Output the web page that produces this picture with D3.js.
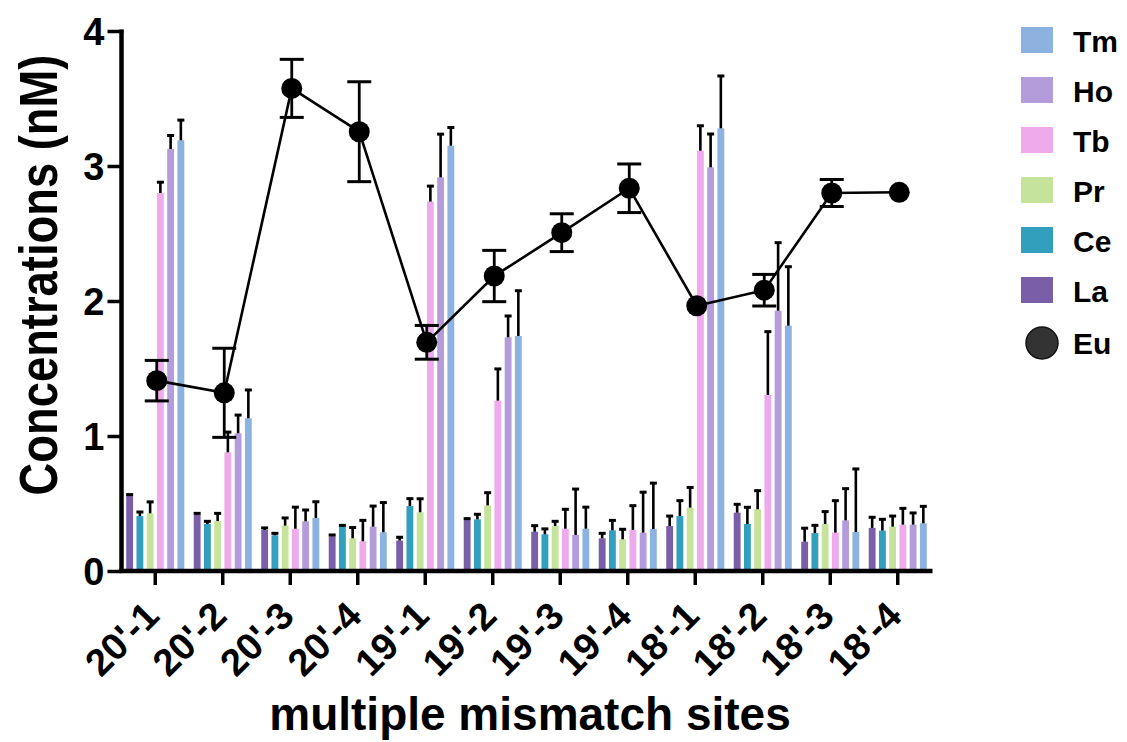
<!DOCTYPE html>
<html>
<head>
<meta charset="utf-8">
<script src="https://cdn.jsdelivr.net/npm/d3@7/dist/d3.min.js"></script>
<style>
  html, body { margin: 0; padding: 0; background: #fff; }
  svg { display: block; font-family: "Liberation Sans", Arial, Helvetica, sans-serif; font-weight: bold; }
</style>
</head>
<body>
<svg id="chart" width="1127" height="742"></svg>
<script>
// Sites on the x axis
const sites = ["20'-1", "20'-2", "20'-3", "20'-4", "19'-1", "19'-2", "19'-3", "19'-4", "18'-1", "18'-2", "18'-3", "18'-4"];

// Bar series (nM) and their upper error (SD)
const La    = [0.556, 0.417, 0.304, 0.257, 0.225, 0.378, 0.291, 0.242, 0.333, 0.432, 0.217, 0.319];
const laErr = [0.010, 0.010, 0.015, 0.010, 0.025, 0.010, 0.045, 0.037, 0.074, 0.062, 0.100, 0.079];
const Ce    = [0.407, 0.348, 0.264, 0.328, 0.481, 0.383, 0.272, 0.301, 0.407, 0.348, 0.281, 0.299];
const ceErr = [0.030, 0.020, 0.015, 0.010, 0.055, 0.037, 0.040, 0.074, 0.114, 0.124, 0.057, 0.084];
const Pr    = [0.427, 0.370, 0.336, 0.242, 0.435, 0.486, 0.333, 0.235, 0.469, 0.457, 0.348, 0.328];
const prErr = [0.085, 0.057, 0.057, 0.080, 0.100, 0.094, 0.035, 0.074, 0.150, 0.138, 0.092, 0.079];
const Tb    = [2.800, 0.879, 0.313, 0.220, 2.736, 1.262, 0.313, 0.304, 3.113, 1.304, 0.284, 0.343];
const tbErr = [0.080, 0.150, 0.160, 0.155, 0.115, 0.235, 0.144, 0.180, 0.185, 0.469, 0.237, 0.121];
const Ho    = [3.126, 1.020, 0.368, 0.328, 2.916, 1.731, 0.267, 0.284, 2.990, 1.928, 0.375, 0.343];
const hoErr = [0.100, 0.135, 0.084, 0.153, 0.320, 0.158, 0.340, 0.300, 0.247, 0.504, 0.235, 0.087];
const Tm    = [3.190, 1.131, 0.393, 0.287, 3.150, 1.741, 0.313, 0.311, 3.279, 1.817, 0.289, 0.353];
const tmErr = [0.150, 0.210, 0.120, 0.220, 0.135, 0.335, 0.160, 0.340, 0.388, 0.437, 0.467, 0.126];

// Eu line series (nM) with symmetric error
const Eu    = [1.410, 1.320, 3.575, 3.254, 1.694, 2.185, 2.506, 2.835, 1.965, 2.080, 2.800, 2.805];
const euErr = [0.150, 0.330, 0.215, 0.370, 0.125, 0.190, 0.140, 0.180, 0.000, 0.117, 0.100, 0.000];

const yTicks = [0, 1, 2, 3, 4];

const barNames  = ["La", "Ce", "Pr", "Tb", "Ho", "Tm"];
const barColors = ["#7a5ea8", "#329fbd", "#c6e39c", "#eeaaea", "#b49cdb", "#8cb3e0"];
const barValues = [La, Ce, Pr, Tb, Ho, Tm];
const barErrors = [laErr, ceErr, prErr, tbErr, hoErr, tmErr];

const svg = d3.select("#chart");

const plot = { left: 121.5, right: 931.5, top: 31, bottom: 571 };

const x0 = d3.scaleBand().domain(sites).range([plot.left, plot.right])
  .paddingInner(0.14).paddingOuter(0.07);
const x1 = d3.scaleBand().domain(barNames).range([0, x0.bandwidth()])
  .paddingInner(0.33).paddingOuter(0);
const y = d3.scaleLinear().domain([0, 4]).range([plot.bottom, plot.top]);
const color = d3.scaleOrdinal().domain(barNames).range(barColors);

// flatten bar records
const bars = [];
sites.forEach((s, i) => {
  barNames.forEach((n, k) => {
    bars.push({ site: s, name: n, value: barValues[k][i], err: barErrors[k][i] });
  });
});

// bars
const gBars = svg.append("g");
gBars.selectAll("rect").data(bars).join("rect")
  .attr("x", d => x0(d.site) + x1(d.name))
  .attr("y", d => y(d.value))
  .attr("width", x1.bandwidth())
  .attr("height", d => y(0) - y(d.value))
  .attr("fill", d => color(d.name));

// upper error bars on the bars
const gBarErr = svg.append("g").attr("stroke", "#000");
const bx = d => x0(d.site) + x1(d.name) + x1.bandwidth() / 2;
gBarErr.selectAll("line.stem").data(bars).join("line").attr("class", "stem")
  .attr("x1", bx).attr("x2", bx)
  .attr("y1", d => y(d.value)).attr("y2", d => y(d.value + d.err))
  .attr("stroke-width", 2.6);
gBarErr.selectAll("line.cap").data(bars).join("line").attr("class", "cap")
  .attr("x1", d => bx(d) - 3.5).attr("x2", d => bx(d) + 3.5)
  .attr("y1", d => y(d.value + d.err)).attr("y2", d => y(d.value + d.err))
  .attr("stroke-width", 3);

// axes
const yAxis = svg.append("g")
  .attr("transform", `translate(${plot.left},0)`)
  .call(d3.axisLeft(y).tickValues(yTicks).tickFormat(d3.format("d")).tickSize(14).tickSizeOuter(0).tickPadding(3));
yAxis.select(".domain").attr("stroke", "#000").attr("stroke-width", 4.5)
  .attr("d", `M0,${plot.top - 1.5}V${plot.bottom}`);
yAxis.selectAll(".tick line").attr("stroke", "#000").attr("stroke-width", 3.5);
yAxis.selectAll(".tick text").attr("font-size", 38).attr("font-weight", "bold")
  .attr("fill", "#000").attr("font-family", "Liberation Sans, Arial, sans-serif").attr("dy", "0.36em");
yAxis.select(".tick:last-of-type line").attr("x1", -14).attr("x2", 2);

const xAxis = svg.append("g")
  .attr("transform", `translate(0,${plot.bottom})`)
  .call(d3.axisBottom(x0).tickSize(14).tickSizeOuter(0));
xAxis.select(".domain").attr("stroke", "#000").attr("stroke-width", 4.5)
  .attr("d", `M${plot.left - 2},0H${plot.right + 1}`);
xAxis.selectAll(".tick line").attr("stroke", "#000").attr("stroke-width", 3.5);
xAxis.selectAll(".tick text")
  .attr("font-size", 38).attr("font-weight", "bold").attr("fill", "#000")
  .attr("font-family", "Liberation Sans, Arial, sans-serif")
  .attr("text-anchor", "end")
  .attr("dy", null).attr("y", null)
  .attr("transform", "translate(6,47) rotate(-45)");

// Eu line with error bars
const eu = sites.map((s, i) => ({ site: s, value: Eu[i], err: euErr[i] }));
const ex = d => x0(d.site) + x0.bandwidth() / 2 + 1.5;
const gEu = svg.append("g");
gEu.append("path").datum(eu)
  .attr("fill", "none").attr("stroke", "#000").attr("stroke-width", 2.6)
  .attr("d", d3.line().x(ex).y(d => y(d.value)));
const eErr = eu.filter(d => d.err > 0);
gEu.selectAll("line.estem").data(eErr).join("line").attr("class", "estem")
  .attr("x1", ex).attr("x2", ex)
  .attr("y1", d => y(d.value - d.err)).attr("y2", d => y(d.value + d.err))
  .attr("stroke", "#000").attr("stroke-width", 2.8);
gEu.selectAll("line.ecapT").data(eErr).join("line").attr("class", "ecapT")
  .attr("x1", d => ex(d) - 12).attr("x2", d => ex(d) + 12)
  .attr("y1", d => y(d.value + d.err)).attr("y2", d => y(d.value + d.err))
  .attr("stroke", "#000").attr("stroke-width", 3);
gEu.selectAll("line.ecapB").data(eErr).join("line").attr("class", "ecapB")
  .attr("x1", d => ex(d) - 12).attr("x2", d => ex(d) + 12)
  .attr("y1", d => y(d.value - d.err)).attr("y2", d => y(d.value - d.err))
  .attr("stroke", "#000").attr("stroke-width", 3);
gEu.selectAll("circle").data(eu).join("circle")
  .attr("cx", ex).attr("cy", d => y(d.value)).attr("r", 10.5)
  .attr("fill", "#000");

// axis titles (y title drawn in a condensed style)
svg.append("text")
  .attr("transform", "translate(57,275) rotate(-90) scale(0.84,1)")
  .attr("text-anchor", "middle")
  .attr("font-size", 54)
  .text("Concentrations (nM)");

svg.append("text")
  .attr("x", 530).attr("y", 730)
  .attr("text-anchor", "middle")
  .attr("font-size", 46)
  .text("multiple mismatch sites");

// legend
const legendItems = ["Tm", "Ho", "Tb", "Pr", "Ce", "La"];
const gLeg = svg.append("g");
legendItems.forEach((n, i) => {
  gLeg.append("rect")
    .attr("x", 1021).attr("y", 27 + i * 50)
    .attr("width", 32).attr("height", 26)
    .attr("fill", color(n));
  gLeg.append("text")
    .attr("x", 1073).attr("y", 51.5 + i * 50)
    .attr("font-size", 30).text(n);
});
gLeg.append("circle")
  .attr("cx", 1042).attr("cy", 343).attr("r", 16)
  .attr("fill", "#333").attr("stroke", "#111").attr("stroke-width", 1.5);
gLeg.append("text")
  .attr("x", 1073).attr("y", 354)
  .attr("font-size", 30).text("Eu");
</script>
</body>
</html>
